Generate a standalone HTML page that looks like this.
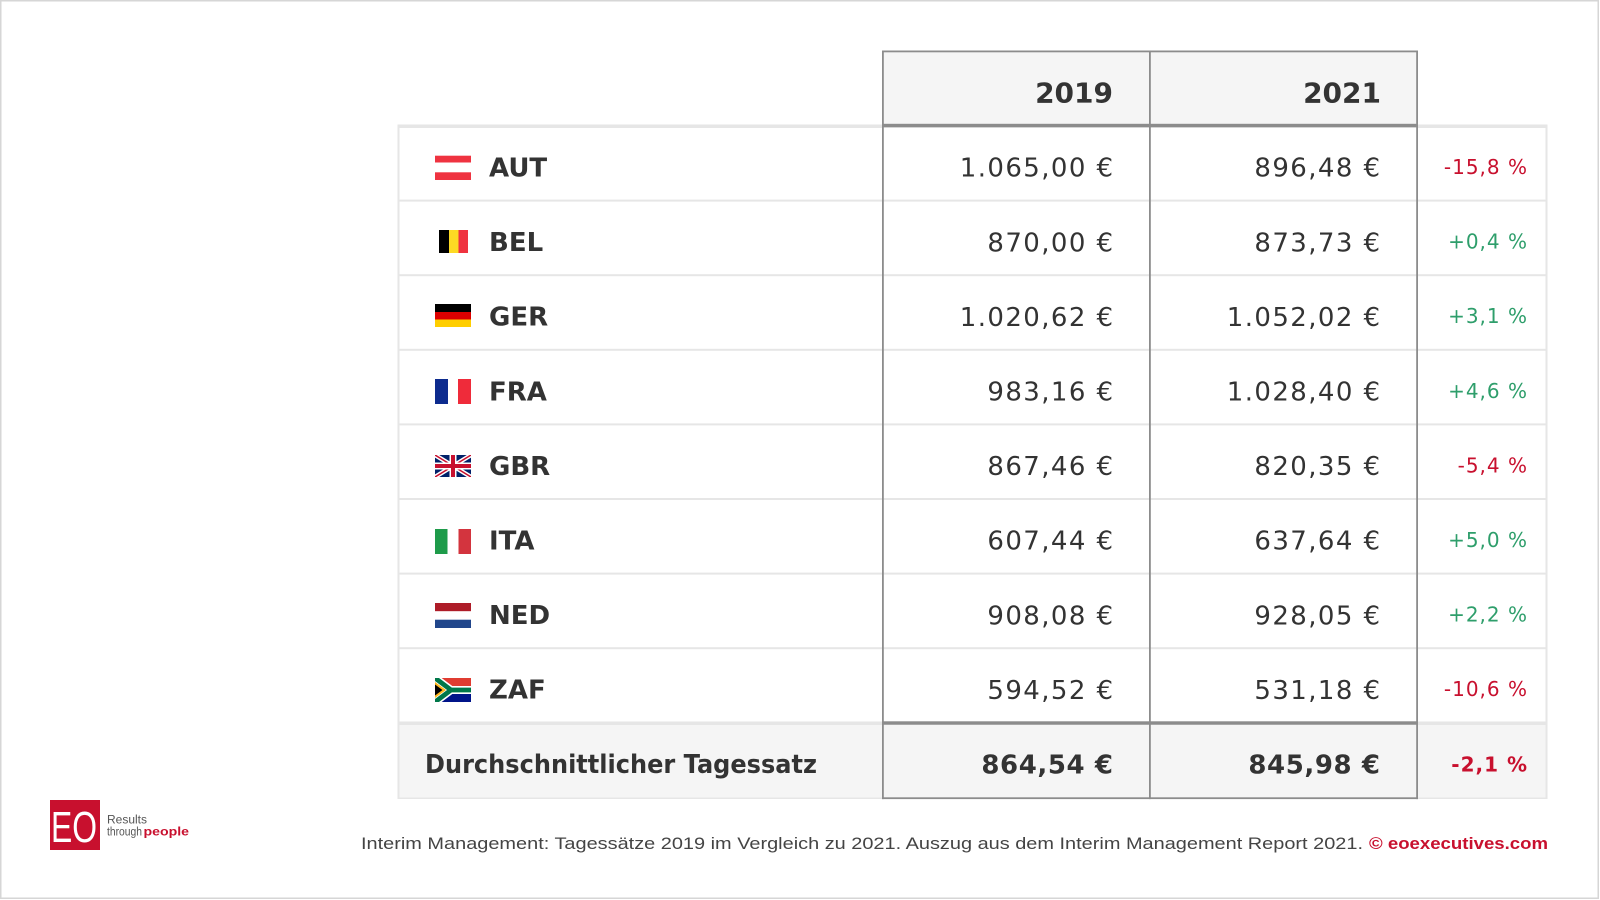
<!DOCTYPE html>
<html><head><meta charset="utf-8"><style>
html,body{margin:0;padding:0;background:#fff;}
svg{display:block;}
</style></head><body>
<svg width="1600" height="900" viewBox="0 0 1600 900" xmlns="http://www.w3.org/2000/svg">
<defs>
<clipPath id="cgb"><rect x="435" y="455" width="36" height="22"/></clipPath>
<clipPath id="cza"><rect x="435" y="678" width="36" height="24"/></clipPath>
</defs>
<rect x="0" y="0" width="1600" height="900" fill="#fff"/>
<rect x="0.75" y="0.75" width="1597.5" height="897.5" fill="none" stroke="#d6d6d6" stroke-width="1.5"/>

<!-- header box -->
<rect x="883" y="51" width="534" height="75" fill="#f5f5f5"/>
<!-- avg row bg -->
<rect x="398" y="723" width="1149" height="76" fill="#f5f5f5"/>

<!-- light row lines -->
<g fill="#e6e6e6">
<rect x="398" y="124.5" width="1149" height="3.5"/>
<rect x="398" y="199.6" width="1149" height="2"/>
<rect x="398" y="274.2" width="1149" height="2"/>
<rect x="398" y="348.8" width="1149" height="2"/>
<rect x="398" y="423.4" width="1149" height="2"/>
<rect x="398" y="498" width="1149" height="2"/>
<rect x="398" y="572.6" width="1149" height="2"/>
<rect x="398" y="647.2" width="1149" height="2"/>
<rect x="398" y="721.5" width="1149" height="3.5"/>
<rect x="398" y="797.5" width="1149" height="1.5"/>
<rect x="397.5" y="124.5" width="2" height="674.5"/>
<rect x="1545.5" y="124.5" width="2" height="674.5"/>
</g>

<!-- dark grid for value columns -->
<g fill="#8c8c8c">
<rect x="882" y="50.5" width="536" height="1.8"/>
<rect x="882" y="123.8" width="536" height="3.4"/>
<rect x="882" y="721.3" width="536" height="3.4"/>
<rect x="882" y="797.3" width="536" height="1.8"/>
<rect x="882" y="50.5" width="1.8" height="748.6"/>
<rect x="1149" y="50.5" width="1.8" height="748.6"/>
<rect x="1416.2" y="50.5" width="1.8" height="748.6"/>
</g>

<!-- header text -->
<g font-family="'DejaVu Sans','Liberation Sans',sans-serif" font-weight="bold" font-size="28" fill="#333" text-anchor="end">
<text x="1113" y="102.5">2019</text>
<text x="1381" y="102.5">2021</text>
</g>

<!-- flags -->
<!-- AUT -->
<rect x="435" y="155.7" width="36" height="24.3" fill="#ef3340"/>
<rect x="435" y="162.5" width="36" height="9.8" fill="#fff"/>
<!-- BEL -->
<rect x="439" y="230" width="10" height="23" fill="#000"/>
<rect x="449" y="230" width="9.5" height="23" fill="#fdda24"/>
<rect x="458.5" y="230" width="9.5" height="23" fill="#ef3340"/>
<!-- GER -->
<rect x="435" y="304" width="36" height="8" fill="#000"/>
<rect x="435" y="312" width="36" height="7.5" fill="#dd0000"/>
<rect x="435" y="319.5" width="36" height="7.5" fill="#ffce00"/>
<!-- FRA -->
<rect x="435" y="379" width="13" height="25" fill="#0d2b8e"/>
<rect x="458" y="379" width="13" height="25" fill="#ef2b3a"/>
<!-- GBR -->
<g clip-path="url(#cgb)">
<rect x="435" y="455" width="36" height="22" fill="#012169"/>
<path d="M435,455 L471,477 M471,455 L435,477" stroke="#fff" stroke-width="4.4"/>
<path d="M435,455 L471,477 M471,455 L435,477" stroke="#c8102e" stroke-width="1.5"/>
<path d="M453,455 V477 M435,466 H471" stroke="#fff" stroke-width="7"/>
<path d="M453,455 V477 M435,466 H471" stroke="#c8102e" stroke-width="4"/>
</g>
<!-- ITA -->
<rect x="435" y="529" width="12.5" height="25" fill="#1e9b4a"/>
<rect x="458.5" y="529" width="12.5" height="25" fill="#d3343e"/>
<!-- NED -->
<rect x="435" y="603" width="36" height="8.3" fill="#ae1c28"/>
<rect x="435" y="611.3" width="36" height="8.4" fill="#fff"/>
<rect x="435" y="619.7" width="36" height="8.3" fill="#21468b"/>
<!-- ZAF -->
<g clip-path="url(#cza)">
<rect x="435" y="678" width="36" height="12" fill="#e03c31"/>
<rect x="435" y="690" width="36" height="12" fill="#001489"/>
<path d="M435,678 L451,690 L435,702 M451,690 H471" stroke="#fff" stroke-width="8" fill="none"/>
<path d="M435,678 L451,690 L435,702 M451,690 H471" stroke="#007749" stroke-width="4.8" fill="none"/>
<polygon points="435,682 446,690 435,698" fill="#ffb81c"/>
<polygon points="435,684.5 442.5,690 435,695.5" fill="#000"/>
</g>

<!-- country names -->
<g font-family="'DejaVu Sans','Liberation Sans',sans-serif" font-weight="bold" font-size="26" fill="#333">
<text x="489" y="176.5">AUT</text>
<text x="489" y="251.1">BEL</text>
<text x="489" y="325.7">GER</text>
<text x="489" y="400.3">FRA</text>
<text x="489" y="474.9">GBR</text>
<text x="489" y="549.5">ITA</text>
<text x="489" y="624.1">NED</text>
<text x="489" y="698.7">ZAF</text>
<text x="425" y="773" textLength="392" lengthAdjust="spacingAndGlyphs">Durchschnittlicher Tagessatz</text>
</g>

<!-- values -->
<g font-family="'DejaVu Sans','Liberation Sans',sans-serif" font-size="26" fill="#333" text-anchor="end" letter-spacing="1.4">
<text x="1114.4" y="176.7">1.065,00 €</text>
<text x="1381.4" y="176.7">896,48 €</text>
<text x="1114.4" y="251.3">870,00 €</text>
<text x="1381.4" y="251.3">873,73 €</text>
<text x="1114.4" y="325.9">1.020,62 €</text>
<text x="1381.4" y="325.9">1.052,02 €</text>
<text x="1114.4" y="400.5">983,16 €</text>
<text x="1381.4" y="400.5">1.028,40 €</text>
<text x="1114.4" y="475.1">867,46 €</text>
<text x="1381.4" y="475.1">820,35 €</text>
<text x="1114.4" y="549.7">607,44 €</text>
<text x="1381.4" y="549.7">637,64 €</text>
<text x="1114.4" y="624.3">908,08 €</text>
<text x="1381.4" y="624.3">928,05 €</text>
<text x="1114.4" y="698.9">594,52 €</text>
<text x="1381.4" y="698.9">531,18 €</text>
</g>
<g font-family="'DejaVu Sans','Liberation Sans',sans-serif" font-size="26" font-weight="bold" fill="#333" text-anchor="end" letter-spacing="0.6">
<text x="1113.6" y="773.3">864,54 €</text>
<text x="1380.6" y="773.3">845,98 €</text>
</g>

<!-- percentages -->
<g font-family="'DejaVu Sans','Liberation Sans',sans-serif" font-size="20" text-anchor="end" letter-spacing="1">
<text x="1528" y="174" fill="#c8102e">-15,8 %</text>
<text x="1528" y="248.6" fill="#2e9e6b">+0,4 %</text>
<text x="1528" y="323.2" fill="#2e9e6b">+3,1 %</text>
<text x="1528" y="397.8" fill="#2e9e6b">+4,6 %</text>
<text x="1528" y="472.4" fill="#c8102e">-5,4 %</text>
<text x="1528" y="547" fill="#2e9e6b">+5,0 %</text>
<text x="1528" y="621.6" fill="#2e9e6b">+2,2 %</text>
<text x="1528" y="696.2" fill="#c8102e">-10,6 %</text>
<text x="1528" y="771.5" fill="#c8102e" font-weight="bold">-2,1 %</text>
</g>

<!-- footer -->
<text x="361" y="849" font-family="'Liberation Sans',sans-serif" font-size="17" fill="#444" textLength="1002" lengthAdjust="spacingAndGlyphs">Interim Management: Tagessätze 2019 im Vergleich zu 2021. Auszug aus dem Interim Management Report 2021.</text>
<text x="1369" y="849" font-family="'Liberation Sans',sans-serif" font-size="17" font-weight="bold" fill="#c8102e" textLength="179" lengthAdjust="spacingAndGlyphs">© eoexecutives.com</text>

<!-- logo -->
<rect x="50" y="800" width="50" height="50" fill="#c8102e"/>
<text x="51" y="842" font-family="'Liberation Sans',sans-serif" font-size="44" fill="#fff" textLength="46" lengthAdjust="spacingAndGlyphs">EO</text>
<text x="107" y="823.5" font-family="'Liberation Sans',sans-serif" font-size="11.5" fill="#555" textLength="40" lengthAdjust="spacingAndGlyphs">Results</text>
<text x="107" y="835.5" font-family="'Liberation Sans',sans-serif" font-size="11.5" fill="#555" textLength="35" lengthAdjust="spacingAndGlyphs">through</text>
<text x="143.5" y="835.5" font-family="'Liberation Sans',sans-serif" font-size="11.5" font-weight="bold" fill="#c8102e" textLength="45.5" lengthAdjust="spacingAndGlyphs">people</text>
</svg>
</body></html>
